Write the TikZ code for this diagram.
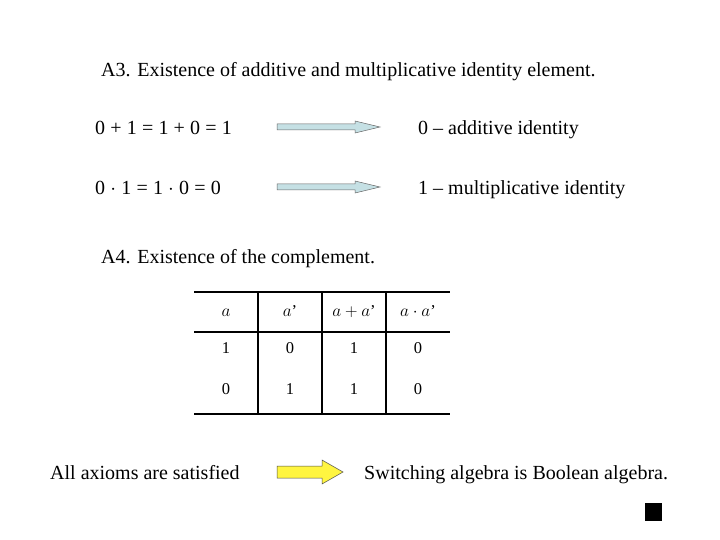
\documentclass[tikz,border=0pt]{standalone}
\usepackage{fontspec}
\setmainfont{Liberation Serif}
\definecolor{arrblue}{HTML}{C5E0E4}
\newcommand\eqsp{\hspace{0.26em}}
\begin{document}
\begin{tikzpicture}[x=1pt,y=-1pt,
  txt/.style={anchor=base west,inner sep=0pt,font=\fontsize{20}{22}\selectfont},
  cell/.style={anchor=base,inner sep=0pt,font=\fontsize{16.5}{18}\selectfont},
  barrow/.style={draw=black!60,fill=arrblue,line width=0.5pt},
  yarrow/.style={draw=black!70,fill=yellow!75,line width=0.5pt}]
\useasboundingbox (0,0) rectangle (720,540);
\node[txt] (t3) at (101,77) {A3. Existence of additive and multiplicative identity element.};
\node[txt] (e1) at (95,135) {0\eqsp+\eqsp1\eqsp=\eqsp1\eqsp+\eqsp0\eqsp=\eqsp1};
\node[txt] (e2) at (95,195) {0\eqsp$\cdot$\eqsp1\eqsp=\eqsp1\eqsp$\cdot$\eqsp0\eqsp=\eqsp0};
\node[txt] (r1) at (418,135) {0 – additive identity};
\node[txt] (r2) at (418,195) {1 – multiplicative identity};
\draw[barrow] (277,124) -- (355,124) -- (355,121) -- (380,127) -- (355,133) -- (355,130) -- (277,130) -- cycle;
\draw[barrow] (277,184) -- (355,184) -- (355,181) -- (380,187) -- (355,193) -- (355,190) -- (277,190) -- cycle;
\node[txt] (t4) at (101,263) {A4. Existence of the complement.};
% table
\draw[line width=1.3pt] (194,292) -- (450,292);
\draw[line width=1.3pt] (194,332) -- (450,332);
\draw[line width=1.3pt] (194,414) -- (450,414);
\foreach \x in {258,322,386} \draw[line width=1.3pt] (\x,292) -- (\x,414);
\node[cell] (h1) at (226,316) {$a$};
\node[cell] (h2) at (290,316) {$a$’};
\node[cell] (h3) at (354,316) {$a+a$’};
\node[cell] (h4) at (418,316) {$a\cdot a$’};
\node[cell] (a1) at (226,353) {1};
\node[cell] (a2) at (290,353) {0};
\node[cell] (a3) at (354,353) {1};
\node[cell] (a4) at (418,353) {0};
\node[cell] (b1) at (226,394) {0};
\node[cell] (b2) at (290,394) {1};
\node[cell] (b3) at (354,394) {1};
\node[cell] (b4) at (418,394) {0};
\node[txt] (s1) at (50,479) {All axioms are satisfied};
\node[txt] (s2) at (364,479) {Switching algebra is Boolean algebra.};
\draw[yarrow] (277,466) -- (322,466) -- (322,460) -- (343,472) -- (322,484) -- (322,478) -- (277,478) -- cycle;
\fill (645,503) rectangle (662,521);
\end{tikzpicture}
\end{document}
